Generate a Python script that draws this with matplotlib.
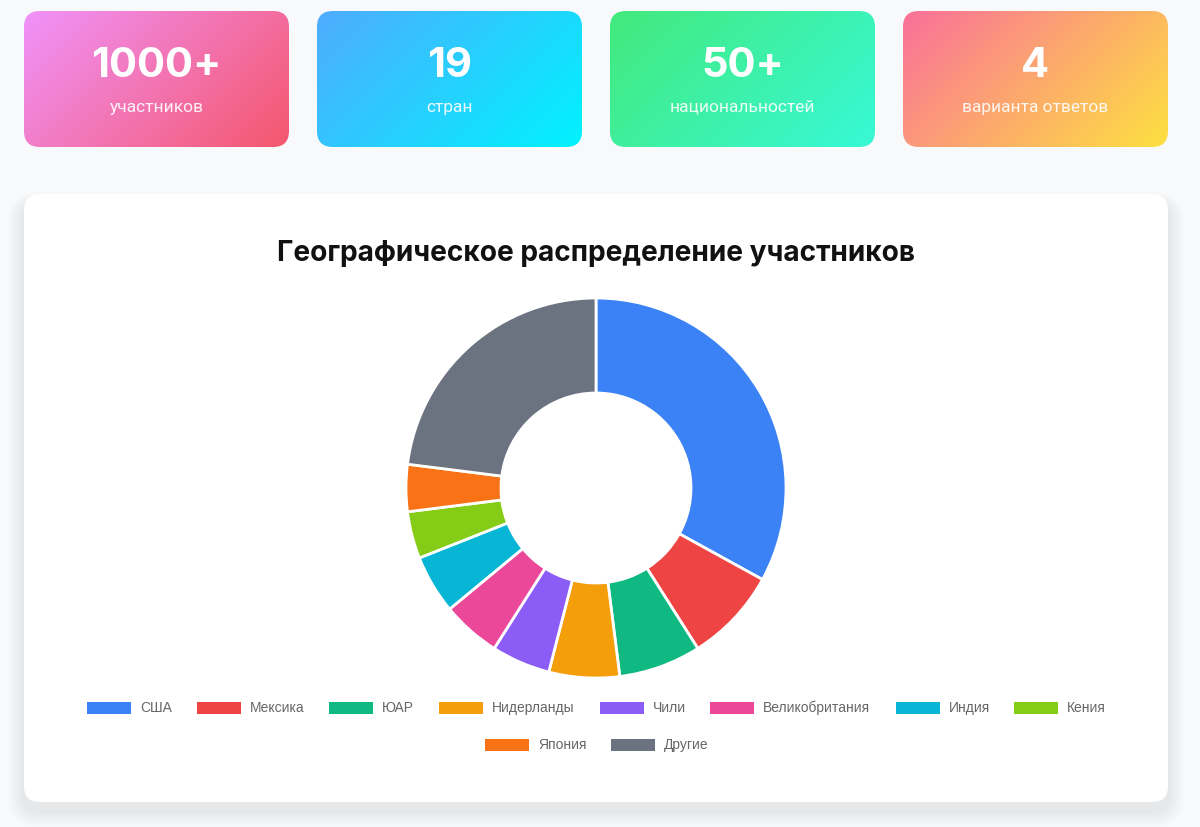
"""Dashboard: stat cards and donut of participant geography."""

import matplotlib

matplotlib.use("Agg")
import matplotlib.pyplot as plt
import numpy as np
from matplotlib.colors import to_rgb
from matplotlib.patches import FancyBboxPatch, Rectangle

# stat cards
card_values = ["1000+", "19", "50+", "4"]
card_labels = ["участников", "стран", "национальностей", "варианта ответов"]
card_grads = [
    ("#f093fb", "#f5576c"),
    ("#4facfe", "#00f2fe"),
    ("#43e97b", "#38f9d7"),
    ("#fa709a", "#fee140"),
]

# donut data
countries = ["США", "Мексика", "ЮАР", "Нидерланды", "Чили",
             "Великобритания", "Индия", "Кения", "Япония", "Другие"]
participants = [330, 80, 70, 60, 50, 50, 50, 40, 40, 230]
colors = ["#3b82f6", "#ef4444", "#10b981", "#f59e0b", "#8b5cf6",
          "#ec4899", "#06b6d4", "#84cc16", "#f97316", "#6b7280"]

W, H = 1200, 827
BG = "#f7f9fb"

fig = plt.figure(figsize=(W / 100, H / 100), dpi=100, facecolor=BG)
ax = fig.add_axes([0, 0, 1, 1])
ax.set_xlim(0, W)
ax.set_ylim(H, 0)
ax.axis("off")


def gradient(c1, c2, w, h):
    # css 135deg: runs along pixel diagonal
    a, b = np.array(to_rgb(c1)), np.array(to_rgb(c2))
    xx, yy = np.meshgrid(np.arange(w), np.arange(h))
    t = (xx + yy) / (w + h - 2)
    return a[None, None, :] * (1 - t[..., None]) + b[None, None, :] * t[..., None]


# cards
card_x = [24, 317, 610, 903]
cw, cy, ch = 265, 11, 136
for x0, val, lab, (c1, c2) in zip(card_x, card_values, card_labels, card_grads):
    box = FancyBboxPatch((x0, cy), cw, ch, boxstyle="round,pad=0,rounding_size=16",
                         facecolor="none", edgecolor="none")
    ax.add_patch(box)
    im = ax.imshow(gradient(c1, c2, cw, ch), extent=[x0, x0 + cw, cy + ch, cy],
                   aspect="auto", zorder=1)
    im.set_clip_path(box)
    ax.text(x0 + cw / 2, 77, val, ha="center", va="baseline", color="white",
            fontsize=30, fontweight="bold", family="Inter", zorder=3)
    ax.text(x0 + cw / 2, 112, lab, ha="center", va="baseline", color="white",
            alpha=0.9, fontsize=12.5, family="Roboto", zorder=3)

# white panel with soft shadow
px, py, pw, ph = 24, 194, 1144, 608
for g in range(27, 0, -3):
    ax.add_patch(FancyBboxPatch((px - g * 0.6, py + 9 - g * 0.4), pw + g * 1.2, ph + g,
                                boxstyle=f"round,pad=0,rounding_size={16 + g * 0.6}",
                                facecolor="black", edgecolor="none", alpha=0.008, zorder=1))
ax.add_patch(FancyBboxPatch((px, py), pw, ph, boxstyle="round,pad=0,rounding_size=16",
                            facecolor="white", edgecolor="none", zorder=2))

ax.text(596, 261, "Географическое распределение участников", ha="center", va="baseline",
        fontsize=20.2, fontweight="bold", family="Inter", color="#111111", zorder=3)

# donut
cx, cyy, r = 596, 488, 190
dax = fig.add_axes([(cx - r) / W, (H - cyy - r) / H, 2 * r / W, 2 * r / H])
dax.pie(participants, colors=colors, startangle=90, counterclock=False,
        wedgeprops=dict(width=0.5, edgecolor="white", linewidth=2))
dax.set_xlim(-1.0, 1.0)
dax.set_ylim(-1.0, 1.0)
dax.set_aspect("equal")
dax.axis("off")

# legend (two centred rows)
legend_rows = [
    (708, [87, 197, 329, 439, 600, 710, 896, 1014], countries[:8], colors[:8]),
    (745, [485, 611], countries[8:], colors[8:]),
]
for ly, xs, names, cols in legend_rows:
    for lx, name, col in zip(xs, names, cols):
        ax.add_patch(Rectangle((lx, ly - 6), 44, 12, facecolor=col, edgecolor="none", zorder=3))
        ax.text(lx + 53, ly, name, ha="left", va="center", fontsize=10,
                family="Liberation Sans", color="#666666", zorder=3)

ax.set_xlim(0, W)
ax.set_ylim(H, 0)
fig.savefig("out.png", dpi=100, facecolor=BG)
